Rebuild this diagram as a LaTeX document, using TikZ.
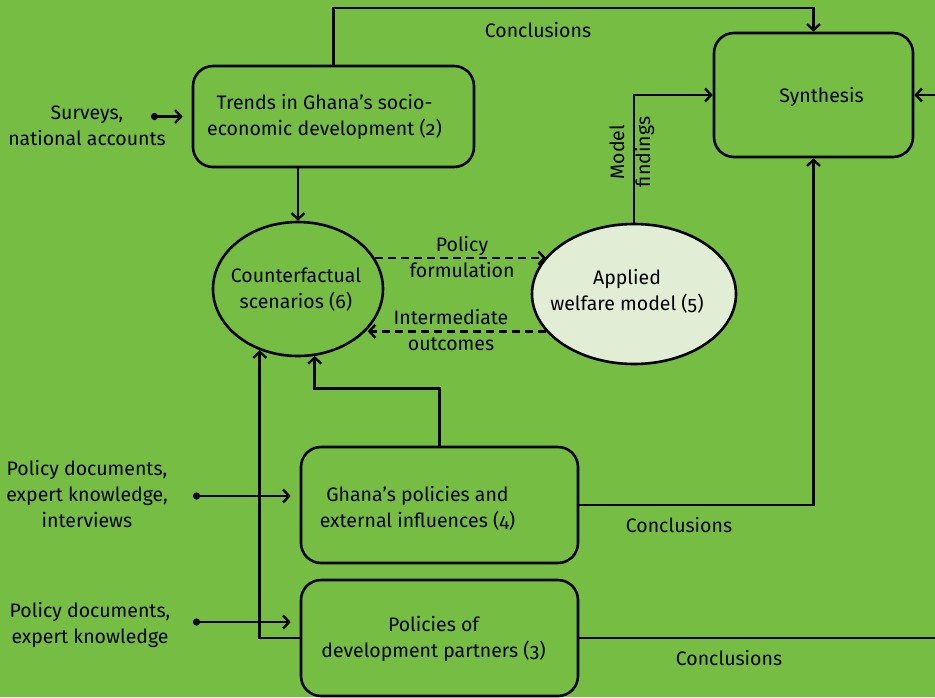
\documentclass[tikz,border=0pt]{standalone}
\usepackage{fontspec}
\setmainfont{Fira Sans}[Numbers=OldStyle]
\usetikzlibrary{arrows.meta,calc,shapes.geometric}
\definecolor{bg}{RGB}{117,190,67}
\definecolor{awmfill}{RGB}{226,237,214}
\begin{document}
\begin{tikzpicture}[x=1pt,y=-1pt,
  font=\fontsize{19.5}{26}\selectfont,
  every node/.style={inner sep=0pt, align=center},
  ln/.style={line width=2.6pt},
  arr/.style={ln,-{Straight Barb[length=6pt,width=13pt,line width=2.4pt]}},
  dotarr/.style={ln,{Circle[length=7pt,width=7pt]}-{Straight Barb[length=6pt,width=13pt,line width=2.4pt]}},
  dasharr/.style={arr,dash pattern=on 8pt off 5pt},
  rbox/.style={draw,ln,rounded corners=20pt}]
\useasboundingbox (0,0) rectangle (935,697);
\fill[bg] (0,0) rectangle (935,697);

% nodes
\node[rbox,minimum width=199pt,minimum height=124pt] (synth) at (813.5,95) {};
\node[rbox,minimum width=281pt,minimum height=101pt] (trends) at (333.5,116.5) {};
\node[draw,ln,ellipse,minimum width=170pt,minimum height=134pt] (cf) at (298,289) {};
\node[draw,ln,ellipse,fill=awmfill,minimum width=204pt,minimum height=140pt] (awm) at (634,294) {};
\node[rbox,minimum width=277pt,minimum height=116pt] (ghp) at (439.5,505) {};
\node[rbox,minimum width=277pt,minimum height=116pt] (dp) at (439.5,638) {};

% node texts
\node (synthT) at ($(synth)+(8,2)$) {Synthesis};
\node (trendsT) at ($(trends)+(-9,0)$) {Trends in Ghana’s socio-\\economic development (2)};
\node (cfT) at ($(cf)+(-2,1)$) {Counterfactual\\scenarios (6)};
\node (awmT) at ($(awm)+(-7,-3)$) {Applied\\welfare model (5)};
\node (ghpT) at ($(ghp)+(-22,3)$) {Ghana’s policies and\\external influences (4)};
\node (dpT) at ($(dp)+(-6,1)$) {Policies of\\development partners (3)};

% input texts
\node (srv) at (87,126) {Surveys,\\national accounts};
\node (pd1) at (87,494) {Policy documents,\\expert knowledge,\\interviews};
\node (pd2) at (90,625) {Policy documents,\\expert knowledge};
\coordinate (d1) at (151,116.5);
\coordinate (d2) at (193,496);
\coordinate (d3) at (193,622);
\draw[dotarr,shorten >=9pt] (d1) -- (trends.west);
\draw[dotarr,shorten >=9pt] (d2) -- (d2 -| ghp.west);
\draw[dotarr,shorten >=9pt] (d3) -- (d3 -| ghp.west);

% labels
\node (l1) at (538,30) {Conclusions};
\node (l2) at (679,525) {Conclusions};
\node (l3) at (729,658) {Conclusions};
\node (l4) at (462,257) {Policy\\formulation};
\node (l5) at (451,330) {Intermediate\\outcomes};
\node[rotate=90] (l6) at (632,152) {Model\\findings};

% connectors
\coordinate (topy) at (0,8);
\coordinate (rx) at (935,0);
\draw[arr] (trends.north) -- (trends.north |- topy) -| (synth.north);
\draw[arr] (trends.south -| cf.north) -- (cf.north);
\draw[arr] (awm.north) |- (synth.west);
\draw[arr] (synth.east -| rx) -- (synth.east);
\draw[ln] (dp.east) -- (dp.east -| rx);
\draw[arr] (ghp.east) -| (synth.south);
\draw[arr] (ghp.north) -- ++(0,-57) -| (cf.-76);
\draw[arr] (dp.west) -| (cf.-122);
\draw[dasharr] (cf.22) -- (cf.22 -| awm.157);
\draw[dasharr] (awm.-157) -- (awm.-157 -| cf.-30);
\end{tikzpicture}
\end{document}
